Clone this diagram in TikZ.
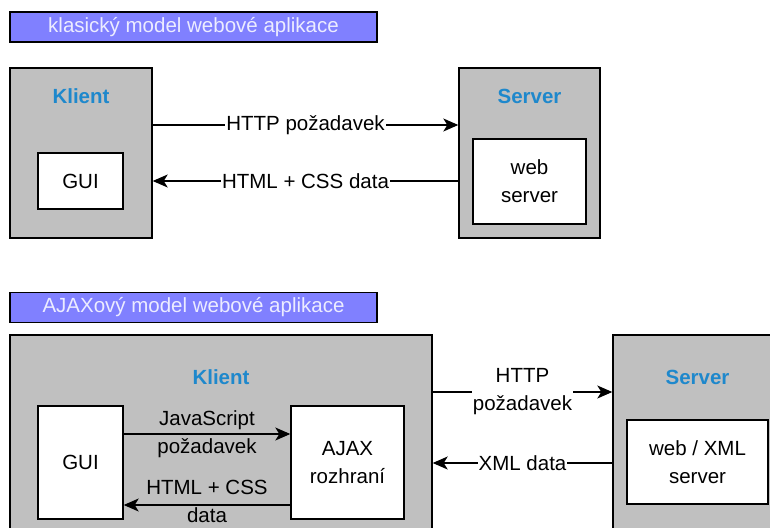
\documentclass[tikz,border=0pt]{standalone}
\usepackage{fontspec}
\setmainfont{Liberation Sans}
\usepackage{tikz}
\usetikzlibrary{arrows.meta, positioning}
\definecolor{boxgray}{RGB}{192,192,192}
\definecolor{headblue}{RGB}{30,136,204}
\definecolor{titleblue}{RGB}{128,128,255}
\definecolor{titletext}{RGB}{236,236,255}
\newcommand{\pxfont}{\fontsize{20.5}{28}\selectfont}
\tikzstyle{titlebar} = [rectangle, draw=black, line width=1.6pt, fill=titleblue, text=titletext, minimum width=367pt, minimum height=30pt, inner sep=0pt]
\tikzstyle{outer}    = [rectangle, draw=black, line width=1.4pt, fill=boxgray, inner sep=0pt]
\tikzstyle{inner}    = [rectangle, draw=black, line width=1.4pt, fill=white, text centered, inner sep=0pt]
\tikzstyle{head}     = [text=headblue, font=\pxfont\bfseries]
\tikzstyle{arrow}    = [line width=1.2pt, -{Stealth[length=15pt,width=13pt,inset=4pt]}]
\tikzstyle{lbl}      = [fill=white, inner sep=1pt]
\tikzset{every node/.style={align=center, font=\pxfont}}

\begin{document}
\begin{tikzpicture}[x=1pt, y=-1pt]
    \useasboundingbox (0,0) rectangle (770,527);
    \clip (0,0) rectangle (770,527);

    % klasicky model
    \node (t1)  [titlebar] at (193.5,27) {klasický model webové aplikace};
    \node (kl1) [outer, minimum width=142pt, minimum height=170pt] at (81,153) {};
    \node (sv1) [outer, minimum width=141pt, minimum height=170pt] at (529.5,153) {};
    \node (kl1h) [head] at ([yshift=-29pt]kl1.north) {Klient};
    \node (sv1h) [head] at ([yshift=-29pt]sv1.north) {Server};
    \node (gui1) [inner, minimum width=85pt,  minimum height=56pt] at (80.5,181) {GUI};
    \node (web1) [inner, minimum width=113pt, minimum height=85pt] at (529.5,181.5) {web\\server};

    \draw [arrow] ([yshift=28pt]kl1.east) -- node[lbl]{HTTP požadavek} ([yshift=28pt]sv1.west);
    \draw [arrow] ([yshift=-28pt]sv1.west) -- node[lbl]{HTML + CSS data} ([yshift=-28pt]kl1.east);

    % AJAX model
    \node (t2)  [titlebar] at (193.5,307.5) {AJAXový model webové aplikace};
    \node (kl2) [outer, minimum width=422pt, minimum height=226pt] at (221,448) {};
    \node (sv2) [outer, minimum width=169pt, minimum height=226pt] at (697.5,448) {};
    \node (kl2h) [head] at ([yshift=-43pt]kl2.north) {Klient};
    \node (sv2h) [head] at ([yshift=-43pt]sv2.north) {Server};
    \node (gui2)  [inner, minimum width=85pt,  minimum height=113pt] at (80.5,462.5) {GUI};
    \node (ajax2) [inner, minimum width=113pt, minimum height=113pt] at (347.5,462.5) {AJAX\\rozhraní};
    \node (web2)  [inner, minimum width=141pt, minimum height=84pt]  at (697.5,462) {web / XML\\server};

    \draw [arrow] ([yshift=28.5pt]gui2.east) -- node{JavaScript\\požadavek} ([yshift=28.5pt]ajax2.west);
    \draw [arrow] ([yshift=-42.5pt]ajax2.west) -- node[yshift=4pt, inner sep=1pt]{HTML + CSS\\data} ([yshift=-42.5pt]gui2.east);
    \draw [arrow] ([yshift=56pt]kl2.east) -- node[lbl]{HTTP\\požadavek} ([yshift=56pt]sv2.west);
    \draw [arrow] ([yshift=-15pt]sv2.west) -- node[lbl]{XML data} ([yshift=-15pt]kl2.east);
\end{tikzpicture}
\end{document}
